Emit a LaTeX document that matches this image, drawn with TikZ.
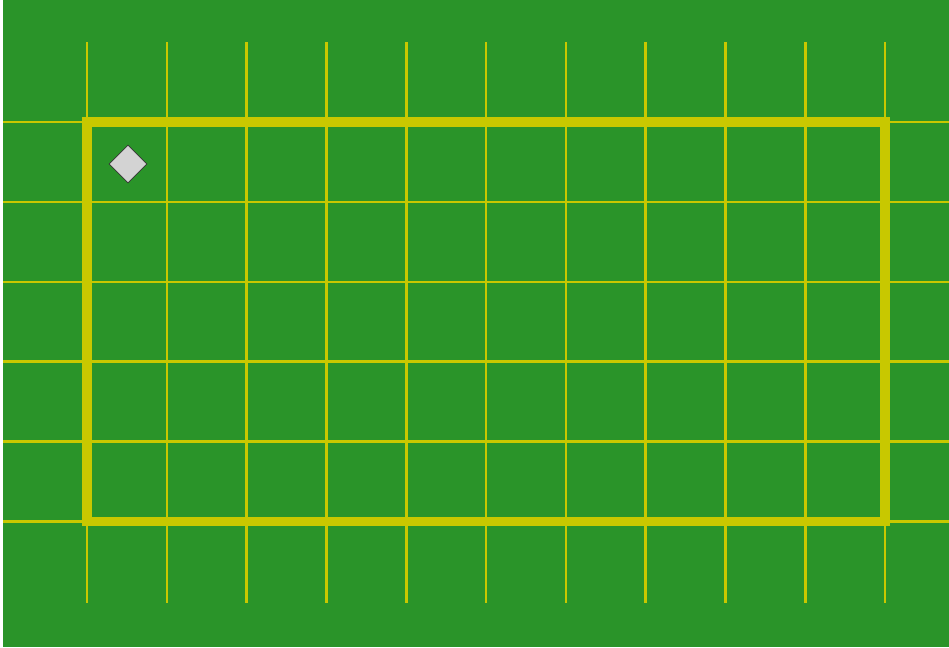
\documentclass[tikz,border=0pt]{standalone}
\usetikzlibrary{shapes.geometric}

\definecolor{fieldgreen}{RGB}{42,148,41}
\definecolor{lineyellow}{RGB}{200,200,0}
\definecolor{markergray}{RGB}{211,211,211}

\tikzset{
  gridline/.style={draw=lineyellow, line width=2.6pt},
  borderline/.style={draw=lineyellow, line width=9.5pt},
  marker/.style={diamond, draw=black!80, fill=markergray, line width=0.8pt,
    inner sep=0pt, minimum size=38pt}
}

\begin{document}
\begin{tikzpicture}[x=1pt,y=-1pt]
  \useasboundingbox (0,0) rectangle (949,647);
  \fill[fieldgreen] (3,0) rectangle (949,647);
  % grid
  \foreach \i in {0,...,10}
    \draw[gridline] (87+79.8*\i,42) -- (87+79.8*\i,603);
  \foreach \j in {0,...,5}
    \draw[gridline] (3,122+79.9*\j) -- (949,122+79.9*\j);
  % border
  \draw[borderline] (87,122) rectangle (885,521.5);
  \node[marker] (piece) at (128,164) {};
\end{tikzpicture}
\end{document}
